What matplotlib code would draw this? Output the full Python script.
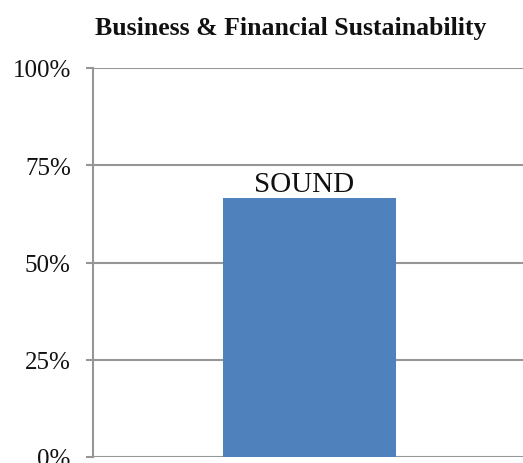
import matplotlib
matplotlib.use("Agg")
import matplotlib.pyplot as plt
from matplotlib.ticker import FixedLocator

categories = ["Business & Financial Sustainability"]
values = [66.7]
bar_labels = ["SOUND"]
yticks = [0, 25, 50, 75, 100]
ytick_labels = ["0%", "25%", "50%", "75%", "100%"]

plt.rcParams['font.family'] = ['Liberation Serif', 'DejaVu Serif']

fig = plt.figure(figsize=(5.23, 4.64), dpi=100)
ax = fig.add_axes([93/523, 1-458/464, 433/523, 389/464])

grid_color = "#969696"
x = list(range(len(categories)))
bars = ax.bar(x, values, width=0.4, color="#4F81BD", zorder=3)
for b, lab in zip(bars, bar_labels):
    ax.text(b.get_x() + b.get_width()/2 - 0.012, b.get_height() + 0.2, lab,
            ha="center", va="bottom", fontsize=21, color="#111111", zorder=4)

ax.set_xlim(-0.5, 0.5)
ax.set_ylim(0, 100)
ax.yaxis.set_major_locator(FixedLocator(yticks))
ax.set_yticklabels(ytick_labels, fontsize=18, color="#111111")
ax.set_xticks([])
ax.grid(axis="y", color=grid_color, linewidth=1.5, zorder=0)
ax.tick_params(axis="y", length=5, width=1.5, color=grid_color, pad=11)
for s in ["top", "right", "bottom"]:
    ax.spines[s].set_visible(False)
ax.spines["left"].set_color(grid_color)
ax.spines["left"].set_linewidth(1.5)
ax.set_axisbelow(True)

fig.text(291/523, 1-28/464, "Business & Financial Sustainability",
         ha="center", va="center", fontsize=18.5, fontweight="bold", color="#111111")

fig.savefig("out.png", dpi=100)
